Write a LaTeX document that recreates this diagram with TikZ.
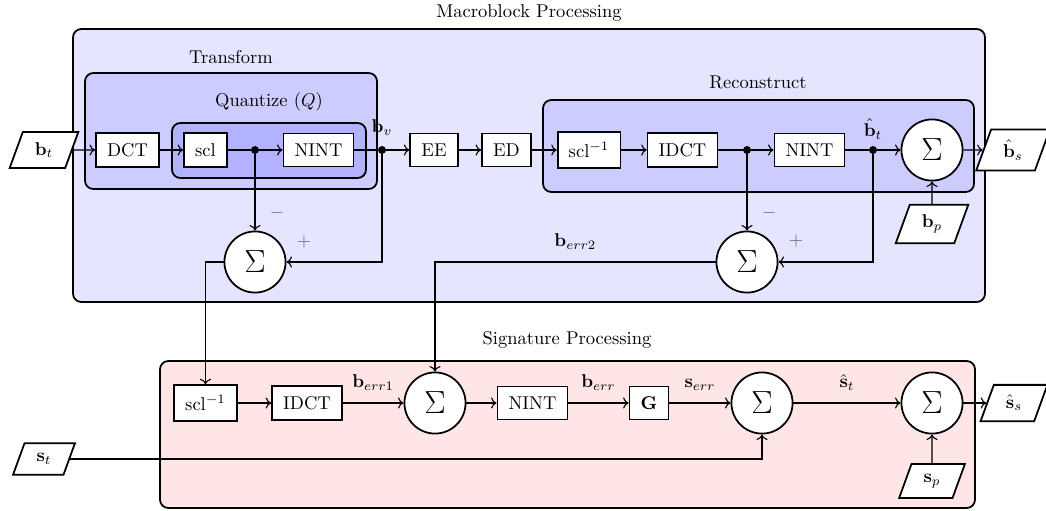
\documentclass[tikz,border=0pt]{standalone}
\usetikzlibrary{shapes.geometric,arrows.meta}
\begin{document}
\begin{tikzpicture}[x=0.54pt,y=-0.54pt,
  blk/.style={draw, line width=0.95pt, fill=white, inner xsep=6pt, inner ysep=5.5pt, minimum height=17pt},
  sumnode/.style={draw, line width=0.95pt, circle, fill=white, minimum size=33pt, inner sep=0pt},
  io/.style={draw, line width=0.95pt, trapezium, trapezium left angle=70, trapezium right angle=110, fill=white, inner xsep=6.5pt, inner ysep=5.5pt},
  junc/.style={circle, fill=black, minimum size=4.3pt, inner sep=0pt},
  conn/.style={line width=0.6pt},
  arr/.style={conn, -{To[length=3pt,width=6pt]}},
  sign/.style={text=black!60},
  container/.style={draw, line width=0.95pt, rounded corners=4.5pt},
  elab/.style={above=3pt}
]
\useasboundingbox (0,0) rectangle (1046,510);

% containers
\draw[container, fill=blue!10] (73,29) rectangle (985,302);
\node (tmb) at (529,13) {Macroblock Processing};
\draw[container, fill=blue!20] (85,73) rectangle (377,189);
\node (ttr) at (231,57) {Transform};
\draw[container, fill=blue!30] (172,123) rectangle (366,178);
\node (tq) at (269,102) {Quantize ($Q$)};
\draw[container, fill=blue!20] (543,100) rectangle (974,192);
\node (trc) at (758,82) {Reconstruct};
\draw[container, fill=red!10] (160,361) rectangle (975,508);
\node (tsp) at (567,340) {Signature Processing};

% top row
\node[io] (bt) at (44,150) {$\mathbf{b}_t$};
\node[blk] (dct) at (127.5,150) {DCT};
\node[blk] (scl) at (205.5,150) {scl};
\node[junc] (j1) at (255,150) {};
\node[blk] (nint1) at (318.5,150) {NINT};
\node[junc, label={[label distance=2.2pt]above:$\mathbf{b}_v$}] (jv) at (382,150) {};
\node[blk] (ee) at (434,150) {EE};
\node[blk] (ed) at (506.5,150) {ED};
\node[blk] (scli1) at (589,150) {scl$^{-1}$};
\node[blk] (idct1) at (682.5,150) {IDCT};
\node[junc] (j3) at (747,150) {};
\node[blk] (nint2) at (809.5,150) {NINT};
\node[junc, label=above:$\hat{\mathbf{b}}_t$] (j4) at (873,150) {};
\node[sumnode] (sT) at (932,150) {\LARGE$\Sigma$};
\node[io] (bs) at (1013,150) {$\hat{\mathbf{b}}_s$};
\node[io] (bp) at (932,224) {$\mathbf{b}_p$};
\node[sumnode] (sL) at (255,262) {\LARGE$\Sigma$};
\node[sumnode] (sR) at (747,262) {\LARGE$\Sigma$};
\node[sign] (m1) at (277,213) {$-$};
\node[sign] (p1) at (304,242) {$+$};
\node[sign] (m2) at (769,213) {$-$};
\node[sign] (p2) at (796,241) {$+$};

% bottom row
\node[blk] (scli2) at (205.5,403) {scl$^{-1}$};
\node[blk] (idct2) at (307,403) {IDCT};
\node[sumnode] (s1) at (435,403) {\LARGE$\Sigma$};
\node[blk] (nint3) at (532.5,403) {NINT};
\node[blk] (g) at (649,403) {$\mathbf{G}$};
\node[sumnode] (s2) at (762,403) {\LARGE$\Sigma$};
\node[sumnode] (s3) at (932,403) {\LARGE$\Sigma$};
\node[io] (ss) at (1014,403) {$\hat{\mathbf{s}}_s$};
\node[io] (sp) at (932,481) {$\mathbf{s}_p$};
\node[io] (st) at (44,459) {$\mathbf{s}_t$};

% top connectors
\draw[arr] (bt) -- (dct);
\draw[arr] (dct) -- (scl);
\draw[conn] (scl) -- (j1);
\draw[arr] (j1) -- (nint1);
\draw[conn] (nint1) -- (jv);
\draw[arr] (jv) -- (ee);
\draw[arr] (ee) -- (ed);
\draw[arr] (ed) -- (scli1);
\draw[arr] (scli1) -- (idct1);
\draw[conn] (idct1) -- (j3);
\draw[arr] (j3) -- (nint2);
\draw[conn] (nint2) -- (j4);
\draw[arr] (j4) -- (sT);
\draw[arr] (sT) -- (bs);
\draw[arr] (bp) -- (sT);
\draw[arr] (j1) -- (sL);
\draw[arr] (jv) |- (sL);
\draw[arr] (j3) -- (sR);
\draw[arr] (j4) |- (sR);
\draw[arr] (sL) -| (scli2);
\draw[arr] (sR) -| node[pos=0.25, elab] {$\mathbf{b}_{err2}$} (s1);

% bottom connectors
\draw[arr] (scli2) -- (idct2);
\draw[arr] (idct2) -- node[elab] {$\mathbf{b}_{err1}$} (s1);
\draw[arr] (s1) -- (nint3);
\draw[arr] (nint3) -- node[elab] {$\mathbf{b}_{err}$} (g);
\draw[arr] (g) -- node[elab] {$\mathbf{s}_{err}$} (s2);
\draw[arr] (s2) -- node[elab] {$\hat{\mathbf{s}}_t$} (s3);
\draw[arr] (s3) -- (ss);
\draw[arr] (sp) -- (s3);
\draw[arr] (st) -| (s2);
\end{tikzpicture}
\end{document}
